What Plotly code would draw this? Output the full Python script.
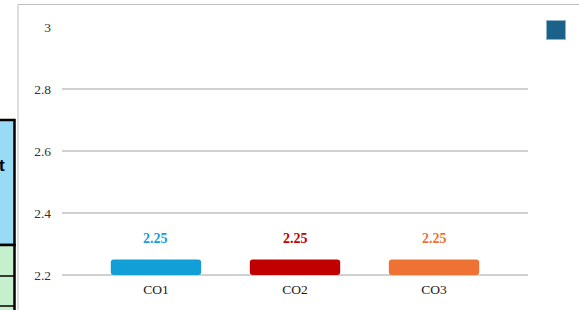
import plotly.graph_objects as go

categories = ["CO1", "CO2", "CO3"]
values = [2.25, 2.25, 2.25]
bar_colors = ["#129fd8", "#c00000", "#ed7234"]
label_texts = ["2.25", "2.25", "2.25"]
y_ticks = [2.2, 2.4, 2.6, 2.8, 3.0]
y_tick_labels = ["2.2", "2.4", "2.6", "2.8", "3"]

W, H = 579, 310
base_val = 2.2

def px(x):
    return x / W

def py(y):
    return (H - y) / H

fig = go.Figure()
fig.add_trace(go.Bar(
    x=categories,
    y=[v - base_val for v in values],
    base=base_val,
    width=0.65,
    marker=dict(color=bar_colors, cornerradius=3, line=dict(width=0)),
    hoverinfo="skip",
    showlegend=False,
))

for c, v, t, col in zip(categories, values, label_texts, bar_colors):
    fig.add_annotation(x=c, y=v, text="<b>%s</b>" % t, showarrow=False,
                       yanchor="middle", yshift=21,
                       font=dict(family="Liberation Serif", size=14, color=col))

shapes = []
# left table fragment
shapes.append(dict(type="rect", xref="paper", yref="paper",
                   x0=px(-10), x1=px(14.5), y0=py(245), y1=py(120),
                   fillcolor="#99dbf5", line=dict(color="black", width=2.5), layer="above"))
shapes.append(dict(type="rect", xref="paper", yref="paper",
                   x0=px(-10), x1=px(14.5), y0=py(330), y1=py(245),
                   fillcolor="#c6efce", line=dict(color="black", width=2.5), layer="above"))
for yy in [276, 306]:
    shapes.append(dict(type="line", xref="paper", yref="paper",
                       x0=px(-10), x1=px(14.5), y0=py(yy), y1=py(yy),
                       line=dict(color="black", width=1.5), layer="above"))
# chart border
shapes.append(dict(type="line", xref="paper", yref="paper",
                   x0=px(18), x1=px(580), y0=py(4.5), y1=py(4.5),
                   line=dict(color="#bdbdbd", width=1)))
shapes.append(dict(type="line", xref="paper", yref="paper",
                   x0=px(18), x1=px(18), y0=py(4.5), y1=py(320),
                   line=dict(color="#bdbdbd", width=1)))
# legend marker
shapes.append(dict(type="rect", xref="paper", yref="paper",
                   x0=px(546.5), x1=px(565.5), y0=py(39.5), y1=py(20.5),
                   fillcolor="#1b6189", line=dict(color="#8fb3c8", width=1)))

fig.add_annotation(xref="paper", yref="paper", x=px(7), y=py(165),
                   xanchor="right", yanchor="middle", text="<b>t</b>",
                   showarrow=False,
                   font=dict(family="Liberation Sans", size=17, color="black"))

# y range padded slightly so the 2.2 gridline is drawn
y_lo, y_hi = 2.19, 3.0
px_per_unit = (275 - 27) / (3.0 - 2.2)
dom_bottom_px = 275 + (2.2 - y_lo) * px_per_unit

fig.update_layout(
    template="none",
    width=W, height=H, autosize=False,
    margin=dict(l=0, r=0, t=0, b=0),
    paper_bgcolor="white", plot_bgcolor="white",
    shapes=shapes,
    bargap=0.35,
    xaxis=dict(domain=[px(62), px(528)], range=[-0.676, 2.676], automargin=False,
               showgrid=False, zeroline=False, showline=False,
               tickfont=dict(family="Liberation Serif", size=13.5, color="#1a1a1a"),
               ticks="", ticklabelstandoff=1),
    yaxis=dict(domain=[py(dom_bottom_px), py(27)], range=[y_lo, y_hi], automargin=False,
               tickvals=y_ticks, ticktext=y_tick_labels,
               showgrid=True, gridcolor="#d0d0d0", gridwidth=1.5,
               zeroline=False, showline=False, ticks="",
               ticklabelstandoff=10,
               tickfont=dict(family="Liberation Serif", size=13.5, color="#333333")),
)

fig.write_html("out.html",
               config={"responsive": False, "displayModeBar": False},
               post_script="document.body.style.margin='0';document.body.style.overflow='hidden';")
